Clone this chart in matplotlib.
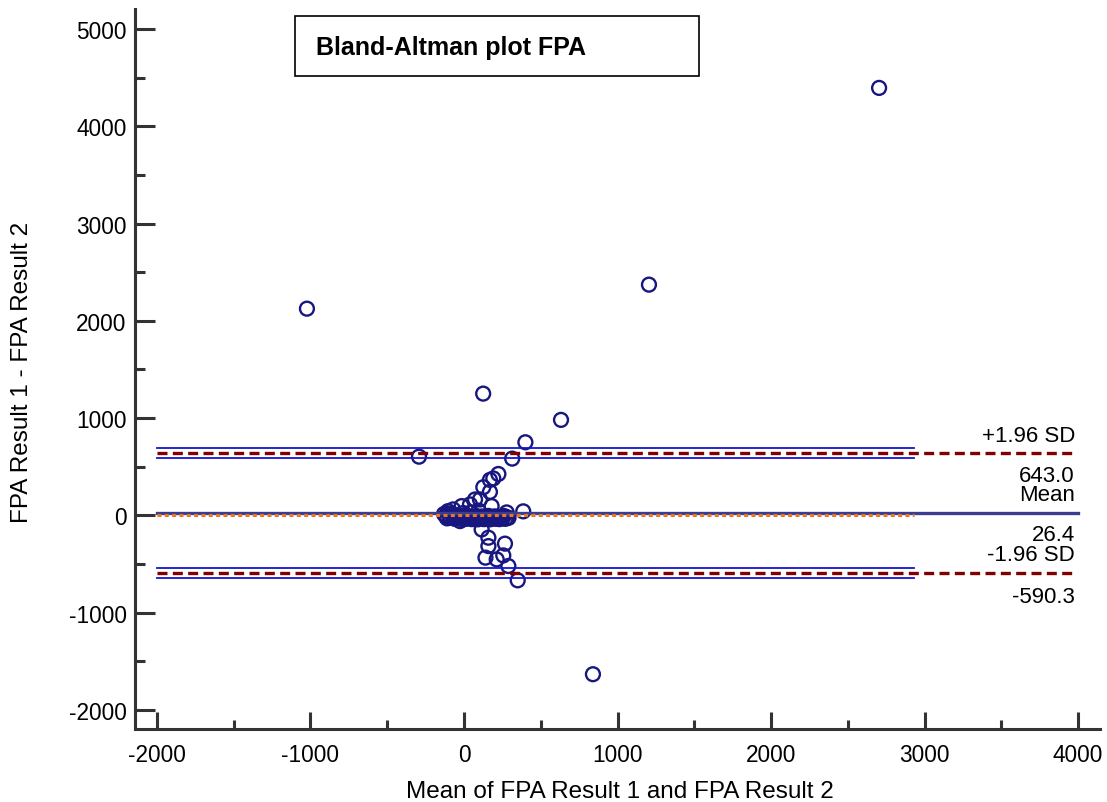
import matplotlib
matplotlib.use("Agg")
import matplotlib.pyplot as plt
from matplotlib.patches import Rectangle

plt.rcParams['font.family'] = ['Liberation Sans', 'DejaVu Sans']
plt.rcParams['axes.unicode_minus'] = False

# Data: mean of the two results (x) and difference (y)
mean_vals = [-1023, 2704, 1205, 125, 632, 400, -293, 314, 840, 350,
             224, 191, 169, 126, 169, 104, 72, 39, -15, 180, -71, -104, 386, 278,
             -120, -100, -90, -70, -50, -26, -20, 0, 20, 40, 60, 80, 100, 120,
             140, 160, 180, 200, 220, 240, 260, 280,
             -130, -110, -80, -60, -40, -10, 10, 30, 50, 70, 90, 110, 130, 150,
             170, 190, 210, 230, 250, 270, 290, -5, 45, 95,
             115, 159, 267, 159, 256, 140, 213, 289]
diff_vals = [2125, 4394, 2372, 1252, 982, 752, 604, 584, -1632, -667,
             426, 380, 365, 290, 242, 164, 164, 113, 96, 96, 62, 44, 42, 31,
             -5, 10, -21, -10, 5, -58, -15, 0, -20, -10, -25, -5, -20, -10,
             -25, -5, -20, -10, -25, -15, -5, -20,
             15, -30, 20, -35, -30, -40, -35, -30, -38, -35, -40, -30, -38, -35,
             -40, -30, -35, -38, -30, -35, -25, 25, 30, 50,
             -144, -229, -290, -315, -411, -434, -452, -520]

mean_diff = 26.4
upper_loa = 643.0
lower_loa = -590.3
upper_ci = [592, 695]
lower_ci = [-643, -537]
line_end_x = 2930
ref_labels = ["+1.96 SD", "643.0", "Mean", "26.4", "-1.96 SD", "-590.3"]

W, H = 1107, 803
fig = plt.figure(figsize=(W / 100, H / 100), dpi=100)
ax = fig.add_axes([135 / W, 1 - 730 / H, (1100 - 135) / W, (730 - 10) / H])

ax.set_xlim(-2143, 4143)
ax.set_ylim(-2195, 5205)

ax.scatter(mean_vals, diff_vals, s=100, facecolors='none', edgecolors='#17177f',
           linewidths=1.7, zorder=2)

# reference lines (drawn over the markers)
ax.plot([-2000, 4000], [mean_diff, mean_diff], color='#3d3d8f', lw=2.4, zorder=3)
for v in upper_ci + lower_ci:
    ax.plot([-2000, line_end_x], [v, v], color='#1515d0', lw=1.3, zorder=3)
ax.plot([-2000, line_end_x], [0, 0], color='#e87722', lw=2.2, dashes=(1.3, 1.1), zorder=4)
for v in [upper_loa, lower_loa]:
    ax.plot([-2000, 3980], [v, v], color='#800000', lw=2.4, dashes=(3, 1.6), zorder=4)

# right side labels
tx = 3980
fs = 16
ax.text(tx, upper_loa + 75, ref_labels[0], ha='right', va='bottom', fontsize=fs)
ax.text(tx, upper_loa - 125, ref_labels[1], ha='right', va='top', fontsize=fs)
ax.text(tx, mean_diff + 80, ref_labels[2], ha='right', va='bottom', fontsize=fs)
ax.text(tx, mean_diff - 110, ref_labels[3], ha='right', va='top', fontsize=fs)
ax.text(tx, lower_loa + 80, ref_labels[4], ha='right', va='bottom', fontsize=fs)
ax.text(tx, lower_loa - 135, ref_labels[5], ha='right', va='top', fontsize=fs)

# axes styling
for s in ['top', 'right']:
    ax.spines[s].set_visible(False)
spine_c = '#333333'
for s in ['left', 'bottom']:
    ax.spines[s].set_color(spine_c)
    ax.spines[s].set_linewidth(2.2)

ax.set_xticks(range(-2000, 4001, 1000))
ax.set_xticks(range(-1500, 4000, 1000), minor=True)
ax.set_yticks(range(-2000, 5001, 1000))
ax.set_yticks(range(-1500, 5000, 1000), minor=True)
ax.tick_params(axis='both', which='both', direction='in', color=spine_c, width=2.2,
               labelsize=16.3)
ax.tick_params(axis='y', which='major', length=14.5, pad=6)
ax.tick_params(axis='y', which='minor', length=7.2)
ax.tick_params(axis='x', which='major', length=12, pad=10)
ax.tick_params(axis='x', which='minor', length=6.3)

fig.text(620 / W, 1 - 792 / H, "Mean of FPA Result 1 and FPA Result 2",
         fontsize=17.5, ha='center', va='center')
fig.text(22 / W, 1 - 372 / H, "FPA Result 1 - FPA Result 2", fontsize=17.5,
         rotation=90, ha='center', va='center')

# title box
fig.patches.append(Rectangle((295 / W, 1 - 77 / H), (699 - 295) / W, 60 / H,
                             transform=fig.transFigure, fill=False,
                             edgecolor='black', lw=1.2))
fig.text(316 / W, 1 - 48 / H, "Bland-Altman plot FPA", fontsize=18,
         fontweight='bold', ha='left', va='center')

fig.savefig("out.png", dpi=100)
